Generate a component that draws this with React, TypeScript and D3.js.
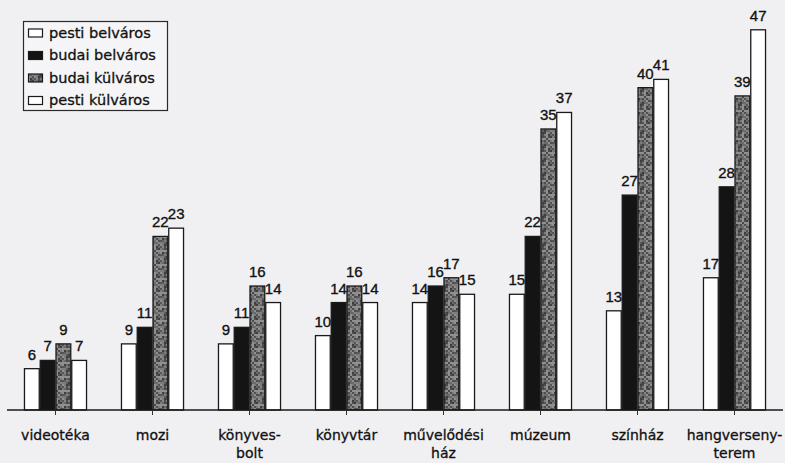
import React from "react";
import * as d3 from "d3";

const categories: string[][] = [
  ["videotéka"],
  ["mozi"],
  ["könyves-", "bolt"],
  ["könyvtár"],
  ["művelődési", "ház"],
  ["múzeum"],
  ["színház"],
  ["hangverseny-", "terem"],
];
const seriesNames = ["pesti belváros", "budai belváros", "budai külváros", "pesti külváros"];
const pestiBelvaros = [6, 9, 9, 10, 14, 15, 13, 17];
const budaiBelvaros = [7, 11, 11, 14, 16, 22, 27, 28];
const budaiKulvaros = [9, 22, 16, 16, 17, 35, 40, 39];
const pestiKulvaros = [7, 23, 14, 14, 15, 37, 41, 47];
const seriesValues = [pestiBelvaros, budaiBelvaros, budaiKulvaros, pestiKulvaros];

const W = 785;
const H = 463;
const baseY = 410;

export default function App() {
  const keys = categories.map((c) => c.join(""));
  const x = d3.scaleBand<string>().domain(keys).range([7, 783]).paddingInner(0.35).paddingOuter(0.175);
  const xs = d3.scaleBand<number>().domain([0, 1, 2, 3]).range([0, x.bandwidth()]).padding(0);
  const y = d3.scaleLinear().domain([1, 50]).range([baseY, 5]);
  const fills = ["#ffffff", "#141414", "url(#speckle)", "#ffffff"];

  // deterministic mottled texture cells (2x2 px cells in a 14x14 tile)
  const speck: { x: number; y: number; c: string }[] = [];
  const shades = ["#7c7c7c", "#4a4a4a", "#5e5e5e", "#909090", "#3e3e3e", "#6a6a6a", "#555555", "#858585", "#4f4f4f"];
  for (let i = 0; i < 7; i++) {
    for (let j = 0; j < 7; j++) {
      const h = (i * 37 + j * 61 + i * j * 13 + 7) % 97;
      speck.push({ x: i * 2, y: j * 2, c: shades[h % shades.length] });
    }
  }

  return (
    <svg width={W} height={H} style={{ display: "block", position: "absolute", left: 0, top: 0, background: "#f0f0f3" }}>
      <defs>
        <pattern id="speckle" patternUnits="userSpaceOnUse" width={14} height={14}>
          {speck.map((s, i) => (
            <rect key={i} x={s.x} y={s.y} width={2} height={2} fill={s.c} />
          ))}
        </pattern>
      </defs>
      <rect x={0} y={0} width={W} height={H} fill="#f0f0f3" />
      {seriesValues.map((vals, si) =>
        vals.map((v, ci) => {
          const bx = (x(keys[ci]) as number) + (xs(si) as number);
          const bw = xs.bandwidth();
          return (
            <rect
              key={`b${si}-${ci}`}
              x={bx + 0.5}
              y={y(v)}
              width={bw - 1}
              height={baseY - y(v)}
              fill={fills[si]}
              stroke="#1a1a1a"
              strokeWidth={1.3}
            />
          );
        })
      )}
      {seriesValues.map((vals, si) =>
        vals.map((v, ci) => {
          const cx = (x(keys[ci]) as number) + (xs(si) as number) + xs.bandwidth() / 2;
          return (
            <text
              key={`l${si}-${ci}`}
              x={cx}
              y={y(v) - 9}
              textAnchor="middle"
              fontFamily="Liberation Sans, Arial, sans-serif"
              fontSize={15}
              fill="#111"
              stroke="#111"
              strokeWidth={0.35}
            >
              {v}
            </text>
          );
        })
      )}
      <line x1={7} x2={783} y1={baseY} y2={baseY} stroke="#1a1a1a" strokeWidth={1.5} />
      {categories.map((lines, ci) => {
        const cx = (x(keys[ci]) as number) + x.bandwidth() / 2;
        return (
          <g key={`c${ci}`}>
            <line x1={cx} x2={cx} y1={baseY} y2={baseY + 5} stroke="#333" strokeWidth={1} />
            {lines.map((t, li) => (
              <text
                key={li}
                x={cx}
                y={440 + li * 18}
                textAnchor="middle"
                fontFamily="DejaVu Sans, sans-serif"
                fontSize={14}
                fill="#111"
                stroke="#111"
                strokeWidth={0.3}
              >
                {t}
              </text>
            ))}
          </g>
        );
      })}
      <rect x={23.5} y={21.5} width={144} height={89} fill="#f5f5f7" stroke="#2a2a2a" strokeWidth={1.2} />
      {seriesNames.map((n, i) => {
        const ry = 37.5 + i * 22.5;
        return (
          <g key={`lg${i}`}>
            <rect x={28.5} y={ry - 8.5} width={14} height={8} fill={fills[i]} stroke="#1a1a1a" strokeWidth={1.2} />
            <text x={49} y={ry} fontFamily="DejaVu Sans, sans-serif" fontSize={14.5} fill="#111" stroke="#111" strokeWidth={0.3}>
              {n}
            </text>
          </g>
        );
      })}
    </svg>
  );
}
